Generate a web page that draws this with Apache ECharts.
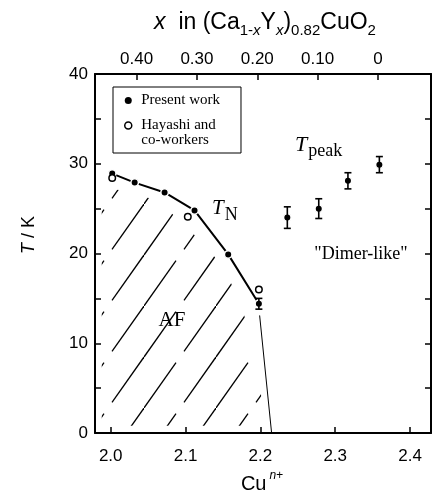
<!DOCTYPE html>
<html>
<head>
<meta charset="utf-8">
<script src="https://cdn.jsdelivr.net/npm/echarts@6/dist/echarts.min.js"></script>
<style>
  html, body { margin: 0; padding: 0; background: #fff; }
  #chart { width: 432px; height: 502px; }
</style>
</head>
<body>
<div id="chart"></div>
<script>
  // T_N, present work
  const tnCu = [2.002, 2.032, 2.072, 2.112, 2.157, 2.198];
  const tnT = [28.9, 27.9, 26.8, 24.8, 19.9, 14.4];
  const tnErr = [0, 0, 0, 0, 0, 0.6];
  // T_peak, present work
  const peakCu = [2.236, 2.278, 2.317, 2.359];
  const peakT = [24.0, 25.0, 28.1, 29.9];
  const peakErr = [1.2, 1.1, 0.9, 0.9];
  // Hayashi and co-workers
  const hayCu = [2.002, 2.103, 2.198];
  const hayT = [28.4, 24.1, 16.0];
  // thin phase line down to the axis
  const edgeCu = [2.199, 2.215];
  const edgeT = [13.1, 0];
  // outline of the hatched AF region
  const afCu = [1.988, 2.02, 2.05, 2.075, 2.1, 2.13, 2.155, 2.175, 2.19, 2.2, 2.205];
  const afT = [27.3, 27.0, 26.2, 25.0, 23.0, 20.6, 17.8, 14.0, 10.0, 5.0, 0.8];
  // ticks
  const cuTicks = [2.0, 2.1, 2.2, 2.3, 2.4];
  const xTicks = [0, 0.1, 0.2, 0.3, 0.4];
  const tLabels = [0, 10, 20, 30, 40];

  const pairs = (a, b) => a.map((v, i) => [v, b[i]]);

  // diagonal hatch tile (broken lines)
  function hatchTile() {
    const c = document.createElement('canvas');
    c.width = 72;
    c.height = 102;
    const ctx = c.getContext('2d');
    ctx.strokeStyle = '#000';
    ctx.lineWidth = 1.3;
    const seg = (x1, y1, x2, y2) => {
      ctx.beginPath();
      ctx.moveTo(x1, y1);
      ctx.lineTo(x2, y2);
      ctx.stroke();
    };
    seg(0, 102, 32, 56.7);
    seg(40, 45.3, 72, 0);
    seg(40, 96.3, 72, 51);
    seg(0, 51, 32, 5.7);
    return c;
  }

  const errData = [];
  tnCu.forEach((c, i) => { if (tnErr[i] > 0) errData.push([c, tnT[i], tnErr[i]]); });
  peakCu.forEach((c, i) => { if (peakErr[i] > 0) errData.push([c, peakT[i], peakErr[i]]); });

  const black = '#000';
  const sans = 'Liberation Sans';
  const serif = 'Liberation Serif';
  const hayName = 'Hayashi and co-workers';

  const axisCommon = {
    axisLine: { onZero: false, lineStyle: { color: black, width: 2 } },
    axisTick: { inside: true, length: 6, lineStyle: { color: black, width: 1.5 } },
    splitLine: { show: false },
  };

  const myChart = echarts.init(document.getElementById('chart'));
  myChart.setOption({
    animation: false,
    backgroundColor: '#fff',
    grid: { left: 95, right: 1, top: 74, bottom: 69, outerBoundsMode: 'none' },
    xAxis: [
      {
        type: 'value', position: 'bottom', min: 1.979, max: 2.428,
        ...axisCommon,
        axisTick: { ...axisCommon.axisTick, customValues: cuTicks },
        axisLabel: {
          customValues: cuTicks, formatter: (v) => v.toFixed(1),
          color: black, fontSize: 17, fontFamily: sans, margin: 15,
        },
      },
      {
        type: 'value', position: 'top', inverse: true, min: -0.088, max: 0.469,
        ...axisCommon,
        axisTick: { ...axisCommon.axisTick, customValues: xTicks },
        axisLabel: {
          customValues: xTicks, formatter: (v) => (v === 0 ? '0' : v.toFixed(2)),
          color: black, fontSize: 17, fontFamily: sans, margin: 6,
        },
      },
    ],
    yAxis: [
      {
        type: 'value', position: 'left', min: 0, max: 40, interval: 5,
        ...axisCommon,
        axisLabel: { customValues: tLabels, color: black, fontSize: 17, fontFamily: sans, margin: 7 },
      },
      {
        type: 'value', position: 'right', min: 0, max: 40, interval: 5,
        ...axisCommon,
        axisLabel: { show: false },
      },
    ],
    legend: {
      left: 113, top: 87, orient: 'vertical',
      padding: [6, 21, 5, 11], itemGap: -5, itemWidth: 16, itemHeight: 7,
      borderColor: black, borderWidth: 1, selectedMode: false,
      textStyle: { fontFamily: serif, fontSize: 15, color: black, lineHeight: 15 },
      // blank first line keeps the icon beside "Hayashi and"
      formatter: (name) => (name === hayName ? '\nHayashi and\nco-workers' : name),
      data: [
        { name: 'Present work', icon: 'circle', itemStyle: { color: black, borderWidth: 0 } },
        {
          name: hayName, icon: 'circle',
          itemStyle: { color: '#fff', borderColor: black, borderWidth: 1.5 },
        },
      ],
    },
    series: [
      {
        name: 'AF', type: 'line', data: pairs(afCu, afT), symbol: 'none', silent: true, z: 1,
        lineStyle: { width: 0 },
        areaStyle: { color: { image: hatchTile(), repeat: 'repeat' }, origin: 0.8, opacity: 1 },
      },
      {
        name: 'TN', type: 'line', data: pairs(tnCu, tnT), symbol: 'none', silent: true, z: 2,
        lineStyle: { color: black, width: 2 },
      },
      {
        name: 'edge', type: 'line', data: pairs(edgeCu, edgeT), symbol: 'none', silent: true, z: 2,
        lineStyle: { color: black, width: 1 },
      },
      {
        name: 'Present work', type: 'scatter', z: 4, symbol: 'circle', symbolSize: 7.5,
        data: pairs(tnCu, tnT).concat(pairs(peakCu, peakT)),
        itemStyle: { color: black, borderColor: '#fff', borderWidth: 1.5, opacity: 1 },
      },
      {
        name: hayName, type: 'scatter', z: 5, symbol: 'circle', symbolSize: 6.5,
        data: pairs(hayCu, hayT),
        itemStyle: { color: '#fff', borderColor: black, borderWidth: 1.5, opacity: 1 },
      },
      {
        name: 'err', type: 'custom', z: 6, silent: true,
        data: errData,
        encode: { x: 0, y: 1 },
        renderItem: (params, api) => {
          const x = api.value(0), t = api.value(1), e = api.value(2);
          const top = api.coord([x, t + e]);
          const bot = api.coord([x, t - e]);
          const hw = 3.5;
          const st = { stroke: black, lineWidth: 1.6 };
          return {
            type: 'group',
            children: [
              { type: 'line', shape: { x1: top[0], y1: top[1], x2: bot[0], y2: bot[1] }, style: st },
              { type: 'line', shape: { x1: top[0] - hw, y1: top[1], x2: top[0] + hw, y2: top[1] }, style: st },
              { type: 'line', shape: { x1: bot[0] - hw, y1: bot[1], x2: bot[0] + hw, y2: bot[1] }, style: st },
            ],
          };
        },
      },
    ],
    graphic: [
      {
        type: 'text', x: 265, y: 11,
        style: {
          text: '{i|x}{r|  in (Ca}{s|1-}{si|x}{r|Y}{si|x}{r|)}{s|0.82}{r|CuO}{s|2}',
          align: 'center', verticalAlign: 'top', fill: black,
          rich: {
            i: { fontFamily: sans, fontSize: 23, fontStyle: 'italic', lineHeight: 23, verticalAlign: 'top' },
            r: { fontFamily: sans, fontSize: 23, lineHeight: 23, verticalAlign: 'top' },
            s: { fontFamily: sans, fontSize: 15, lineHeight: 15, padding: [12, 0, 0, 0], verticalAlign: 'top' },
            si: { fontFamily: sans, fontSize: 15, fontStyle: 'italic', lineHeight: 15, padding: [12, 0, 0, 0], verticalAlign: 'top' },
          },
        },
      },
      {
        type: 'text', x: 29, y: 235, rotation: Math.PI / 2,
        style: {
          text: '{i|T} / K', align: 'center', verticalAlign: 'middle', fill: black,
          rich: {
            i: { fontFamily: sans, fontSize: 18, fontStyle: 'italic' },
          },
          fontFamily: sans, fontSize: 18,
        },
      },
      {
        type: 'text', x: 262, y: 470,
        style: {
          text: '{m|Cu}{p|n+}', align: 'center', verticalAlign: 'top', fill: black,
          rich: {
            m: { fontFamily: sans, fontSize: 20, lineHeight: 20, padding: [4, 0, 0, 0], verticalAlign: 'top' },
            p: { fontFamily: sans, fontSize: 12, fontStyle: 'italic', lineHeight: 12, padding: [0, 0, 0, 3], verticalAlign: 'top' },
          },
        },
      },
      {
        type: 'text', x: 295, y: 134,
        style: {
          text: '{t|T}{s|peak}', align: 'left', verticalAlign: 'top', fill: black,
          rich: {
            t: { fontFamily: serif, fontSize: 22, fontStyle: 'italic', lineHeight: 22, verticalAlign: 'top' },
            s: { fontFamily: serif, fontSize: 18, lineHeight: 18, padding: [8, 0, 0, 1], verticalAlign: 'top' },
          },
        },
      },
      {
        type: 'text', x: 212, y: 198,
        style: {
          text: '{t|T}{s|N}', align: 'left', verticalAlign: 'top', fill: black,
          rich: {
            t: { fontFamily: serif, fontSize: 21, fontStyle: 'italic', lineHeight: 21, verticalAlign: 'top' },
            s: { fontFamily: serif, fontSize: 18, lineHeight: 18, padding: [8, 0, 0, 1], verticalAlign: 'top' },
          },
        },
      },
      {
        type: 'text', x: 361, y: 254,
        style: {
          text: '"Dimer-like"', align: 'center', verticalAlign: 'middle', fill: black,
          fontFamily: serif, fontSize: 18,
        },
      },
      {
        type: 'text', x: 172, y: 320,
        style: {
          text: 'AF', align: 'center', verticalAlign: 'middle', fill: black,
          fontFamily: serif, fontSize: 21,
        },
      },
    ],
  });
</script>
</body>
</html>
